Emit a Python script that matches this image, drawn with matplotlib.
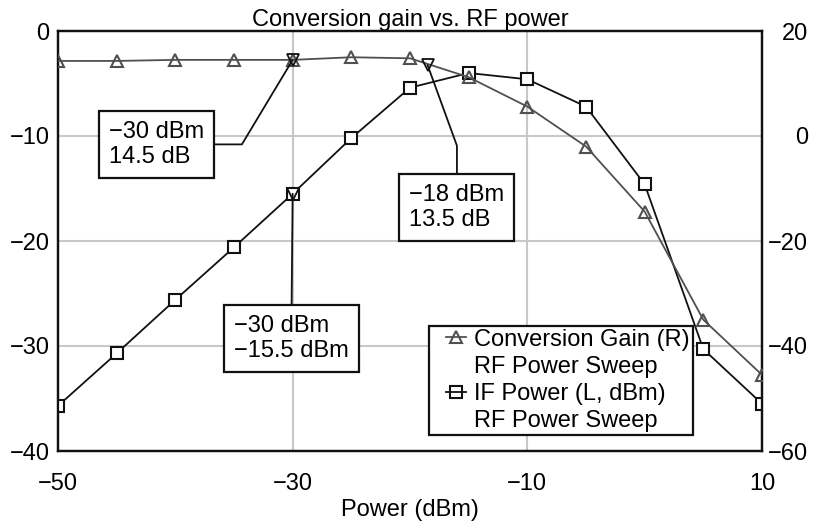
import matplotlib
matplotlib.use("Agg")
import matplotlib.pyplot as plt
from matplotlib.lines import Line2D
from matplotlib.legend_handler import HandlerLine2D

# Data
rf_power = [-50, -45, -40, -35, -30, -25, -20, -15, -10, -5, 0, 5, 10]
conv_gain = [14.3, 14.3, 14.5, 14.5, 14.5, 15.0, 14.8, 11.2, 5.6, -2.0, -14.4, -35.0, -45.5]  # right axis
if_power = [-35.7, -30.7, -25.6, -20.6, -15.5, -10.2, -5.4, -4.0, -4.6, -7.2, -14.6, -30.3, -35.5]  # left axis

x_ticks = [-50, -30, -10, 10]
left_ticks = [0, -10, -20, -30, -40]
right_ticks = [20, 0, -20, -40, -60]

# Annotated points (x, y, label)
gain_marks = [(-30, 14.5, "\u221230 dBm\n14.5 dB"), (-18.5, 13.5, "\u221218 dBm\n13.5 dB")]
if_marks = [(-30, -15.5, "\u221230 dBm\n\u221215.5 dBm")]

plt.rcParams['font.family'] = ['Liberation Sans', 'DejaVu Sans']
plt.rcParams['font.size'] = 17

gain_color = '#505050'
if_color = '#111111'

fig = plt.figure(figsize=(8.15, 5.25), dpi=100)
ax = fig.add_axes([58 / 815, 1 - 451 / 525, 704 / 815, 420 / 525])
ax2 = ax.twinx()

# IF power on the left axis
ax.plot(rf_power, if_power, color=if_color, lw=1.3, marker='s', ms=9,
        mfc='white', mec=if_color, mew=1.5, zorder=3)
# conversion gain on the right axis
ax2.plot(rf_power, conv_gain, color=gain_color, lw=1.3, marker='^', ms=9,
         mfc='none', mec=gain_color, mew=1.5, zorder=3)

ax.set_xlim(-50, 10)
ax.set_ylim(-40, 0)
ax2.set_ylim(-60, 20)
ax.set_xticks(x_ticks)
ax.set_yticks(left_ticks)
ax2.set_yticks(right_ticks)

ax.grid(color='#c8c8c8', lw=1.5)
ax.set_axisbelow(True)
for a in (ax, ax2):
    for s in a.spines.values():
        s.set_linewidth(1.6)
        s.set_color('#111111')
ax.tick_params(axis='x', length=0, pad=16)
ax.tick_params(axis='y', length=0, pad=6)
ax2.tick_params(axis='y', length=0, pad=33)
for t in ax2.get_yticklabels():
    t.set_horizontalalignment('right')

ax.set_title("Conversion gain vs. RF power", pad=3, fontsize=17)
ax.set_xlabel("Power (dBm)", labelpad=3)

box = dict(boxstyle='square,pad=0.42', fc='white', ec='#111111', lw=1.6)
line = dict(arrowstyle='-', color='#111111', lw=1.3, shrinkA=0, shrinkB=0)

# annotations on conversion gain
x, y, txt = gain_marks[0]
ax2.plot(x, y, marker='v', ms=9, mfc='none', mec='#111111', mew=1.3, zorder=4)
ax2.annotate(txt, xy=(x, y), xytext=(-41.6, -10.8), textcoords=ax.transData,
             ha='center', va='center', multialignment='left', bbox=box, zorder=5,
             arrowprops=dict(line, relpos=(1, 0.5),
                             connectionstyle='angle,angleA=0,angleB=59,rad=0'))
x, y, txt = gain_marks[1]
ax2.plot(x, y, marker='v', ms=9, mfc='none', mec='#111111', mew=1.3, zorder=4)
ax2.annotate(txt, xy=(x, y), xytext=(-16.0, -16.8), textcoords=ax.transData,
             ha='center', va='center', multialignment='left', bbox=box, zorder=5,
             arrowprops=dict(line, relpos=(0.5, 1),
                             connectionstyle='angle,angleA=90,angleB=-70,rad=0'))

# annotation on IF power
x, y, txt = if_marks[0]
ax2.plot(x, y, marker='v', ms=9, mfc='none', mec='#111111', mew=1.3, zorder=4,
         transform=ax.transData)
ax2.annotate(txt, xy=(x, y), xycoords=ax.transData, xytext=(-30.1, -29.3),
             textcoords=ax.transData, ha='center', va='center', multialignment='left',
             bbox=box, zorder=5,
             arrowprops=dict(line, relpos=(0.5, 1)))

# legend
handles = [
    Line2D([], [], color=gain_color, lw=1.3, marker='^', ms=8, mfc='none', mec=gain_color, mew=1.5),
    Line2D([], [], color='none'),
    Line2D([], [], color=if_color, lw=1.3, marker='s', ms=8, mfc='none', mec=if_color, mew=1.5),
    Line2D([], [], color='none'),
]
labels = ["Conversion Gain (R)", "RF Power Sweep", "IF Power (L, dBm)", "RF Power Sweep"]
leg = ax2.legend(handles, labels, loc='lower left', bbox_to_anchor=(0.527, 0.038),
                 borderaxespad=0, borderpad=0.12, labelspacing=0.22,
                 handlelength=1.45, handletextpad=0.35, fancybox=False,
                 framealpha=1, edgecolor='#111111',
                 handler_map={Line2D: HandlerLine2D(xpad=0.6)})
leg.get_frame().set_linewidth(1.6)
leg.set_zorder(6)

fig.savefig("out.png", dpi=100)
